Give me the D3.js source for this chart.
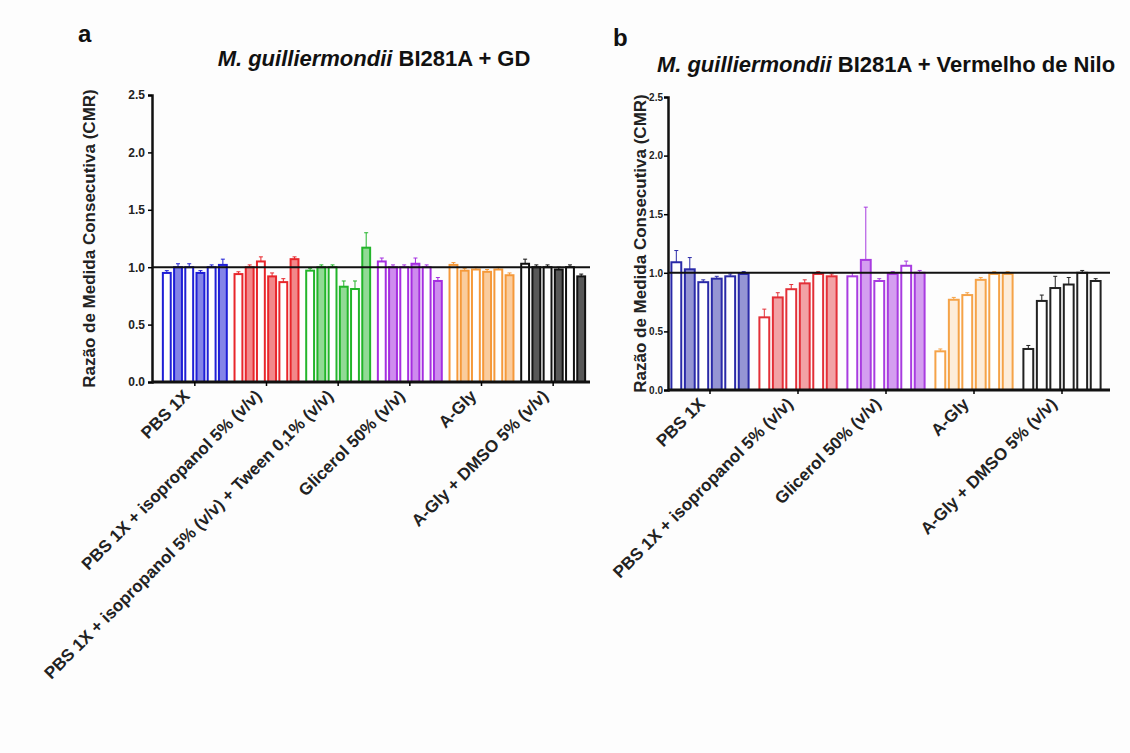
<!DOCTYPE html>
<html><head><meta charset="utf-8">
<script src="https://cdn.jsdelivr.net/npm/d3@7"></script>
<style>body{margin:0;background:#fdfdfd;}text{font-family:"Liberation Sans",Arial,sans-serif;}</style>
</head><body><svg id="c" width="1130" height="753"></svg>
<script>
// ---- data ----
const yTicks = [0.0, 0.5, 1.0, 1.5, 2.0, 2.5];
const catsA = ["PBS 1X", "PBS 1X + isopropanol 5% (v/v)", "PBS 1X + isopropanol 5% (v/v) + Tween 0,1% (v/v)", "Glicerol 50% (v/v)", "A-Gly", "A-Gly + DMSO 5% (v/v)"];
const colorsA = ["#1f1fd6", "#e8262b", "#22b52a", "#a52ee0", "#f5993a", "#111111"];
const valsA = [
  [0.95, 1.00, 1.00, 0.95, 1.00, 1.02],
  [0.94, 1.00, 1.05, 0.92, 0.87, 1.07],
  [0.97, 1.00, 1.00, 0.83, 0.81, 1.17],
  [1.05, 1.00, 1.00, 1.03, 1.00, 0.88],
  [1.02, 0.97, 0.98, 0.96, 0.98, 0.93],
  [1.03, 1.00, 1.00, 0.98, 1.00, 0.92]
];
const errA = [
  [0.02, 0.03, 0.03, 0.02, 0.02, 0.05],
  [0.02, 0.02, 0.04, 0.03, 0.03, 0.02],
  [0.02, 0.02, 0.02, 0.05, 0.07, 0.13],
  [0.03, 0.02, 0.02, 0.05, 0.02, 0.03],
  [0.02, 0.02, 0.02, 0.02, 0.02, 0.02],
  [0.04, 0.02, 0.02, 0.02, 0.02, 0.02]
];
const catsB = ["PBS 1X", "PBS 1X + isopropanol 5% (v/v)", "Glicerol 50% (v/v)", "A-Gly", "A-Gly + DMSO 5% (v/v)"];
const colorsB = ["#2a2aa8", "#e33038", "#a83ce0", "#f5a348", "#222222"];
const valsB = [
  [1.09, 1.03, 0.92, 0.95, 0.97, 0.99],
  [0.62, 0.79, 0.86, 0.91, 0.99, 0.97],
  [0.97, 1.11, 0.93, 0.99, 1.06, 1.00],
  [0.33, 0.77, 0.81, 0.94, 0.99, 0.99],
  [0.35, 0.76, 0.87, 0.90, 1.00, 0.93]
];
const errB = [
  [0.10, 0.10, 0.02, 0.02, 0.02, 0.02],
  [0.07, 0.04, 0.04, 0.03, 0.02, 0.02],
  [0.03, 0.45, 0.02, 0.02, 0.04, 0.02],
  [0.02, 0.02, 0.02, 0.02, 0.02, 0.02],
  [0.03, 0.05, 0.10, 0.06, 0.02, 0.02]
];

const svg = d3.select("#c");
const FF = "'Liberation Sans',Arial,sans-serif";

function panel(o) {
  const g = svg.append("g");
  const y = d3.scaleLinear().domain([0, 2.5]).range([o.y0, o.y1]);
  const x = d3.scaleBand().domain(o.cats).range(o.xr).paddingInner(o.pad).paddingOuter(o.pad / 2);
  const xi = d3.scaleBand().domain(d3.range(6)).range([0, x.bandwidth()]).paddingInner(0.12);

  // bars
  o.cats.forEach((c, gi) => {
    const col = o.colors[gi];
    const tint = d3.interpolateRgb(col, "#ffffff")(o.tintMix[gi]);
    o.vals[gi].forEach((v, bi) => {
      const bx = x(c) + xi(bi);
      const bw = xi.bandwidth();
      g.append("rect").attr("x", bx + 1).attr("y", y(v)).attr("width", bw - 2)
        .attr("height", y(0) - y(v))
        .attr("fill", bi % 2 ? tint : "#ffffff")
        .attr("stroke", col).attr("stroke-width", 2);
      const e = o.errs[gi][bi];
      const cx = bx + bw / 2;
      g.append("line").attr("x1", cx).attr("x2", cx).attr("y1", y(v)).attr("y2", y(v + e))
        .attr("stroke", col).attr("stroke-width", 1);
      g.append("line").attr("x1", cx - 2).attr("x2", cx + 2).attr("y1", y(v + e)).attr("y2", y(v + e))
        .attr("stroke", col).attr("stroke-width", 1);
    });
  });

  // reference line at 1.0
  g.append("line").attr("x1", o.ax0).attr("x2", o.ax1).attr("y1", y(1)).attr("y2", y(1))
    .attr("stroke", "#111").attr("stroke-width", 2);

  // y axis
  const ya = g.append("g").attr("transform", `translate(${o.ax0},0)`)
    .call(d3.axisLeft(y).tickValues(yTicks).tickFormat(d3.format(".1f")).tickSize(4).tickPadding(o.tpad));
  ya.select(".domain").attr("stroke-width", 2.5).attr("stroke", "#111");
  ya.selectAll(".tick line").attr("stroke-width", 1.5);
  ya.selectAll("text").attr("font-size", o.tfs).attr("font-weight", "bold").attr("fill", "#222")
    .attr("font-family", FF);

  // x axis
  g.append("line").attr("x1", o.ax0).attr("x2", o.ax1).attr("y1", y(0)).attr("y2", y(0))
    .attr("stroke", "#111").attr("stroke-width", 3);
  const xa = g.append("g").attr("transform", `translate(0,${y(0)})`)
    .call(d3.axisBottom(x).tickSize(4).tickSizeOuter(0));
  xa.select(".domain").remove();
  xa.selectAll(".tick line").attr("stroke-width", 1.5);
  xa.selectAll("text").attr("font-size", 17).attr("font-weight", "bold").attr("fill", "#222")
    .attr("font-family", FF)
    .attr("text-anchor", "end").attr("dy", 0).attr("y", 0)
    .attr("transform", "translate(-4,15) rotate(-45)");

  // y label
  g.append("text").attr("transform", `translate(${o.ylx},${(o.y0 + o.y1) / 2}) rotate(-90)`)
    .attr("text-anchor", "middle").attr("font-size", 17).attr("font-weight", "bold").attr("fill", "#222")
    .text("Razão de Medida Consecutiva (CMR)");

  // title
  const t = g.append("text").attr("x", o.tx).attr("y", o.ty).attr("text-anchor", "middle")
    .attr("font-size", 22).attr("font-weight", "bold").attr("fill", "#111");
  t.append("tspan").attr("font-style", "italic").text("M. guilliermondii");
  t.append("tspan").text(" " + o.title);

  g.append("text").attr("x", o.lx).attr("y", o.ly).attr("font-size", 24).attr("font-weight", "bold")
    .attr("fill", "#111").text(o.letter);
}

panel({cats: catsA, colors: colorsA, vals: valsA, errs: errA, tintMix: [0.45, 0.45, 0.5, 0.45, 0.5, 0.3],
  y0: 382, y1: 95, xr: [159, 589], pad: 0.08, ax0: 152, ax1: 590, tfs: 12, tpad: 3,
  ylx: 95, tx: 374, ty: 66, title: "BI281A + GD", letter: "a", lx: 78, ly: 42});
panel({cats: catsB, colors: colorsB, vals: valsB, errs: errB, tintMix: [0.5, 0.55, 0.5, 0.8, 1.0],
  y0: 390, y1: 97, xr: [666, 1106], pad: 0.1, ax0: 668, ax1: 1110, tfs: 10, tpad: 1,
  ylx: 646, tx: 886, ty: 72, title: "BI281A + Vermelho de Nilo", letter: "b", lx: 613, ly: 46});
</script></body></html>
